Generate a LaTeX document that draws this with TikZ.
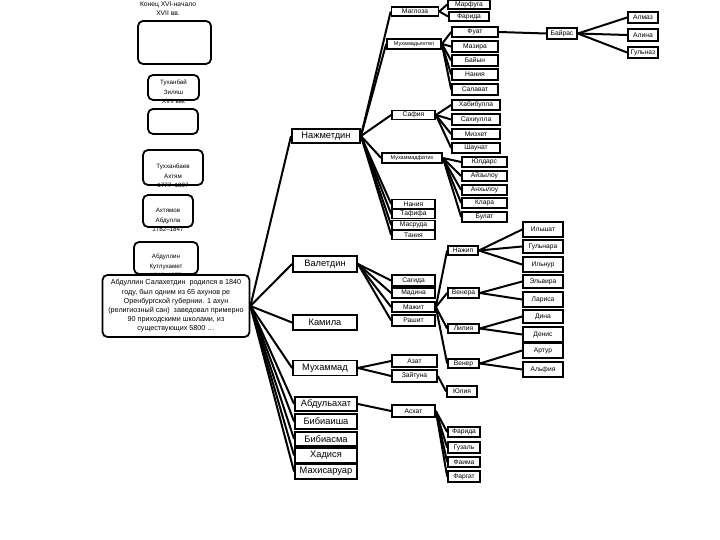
\documentclass[tikz,border=0pt]{standalone}
\usepackage{fontspec}
\setmainfont{Liberation Sans}
\usetikzlibrary{backgrounds}
\begin{document}
\begin{tikzpicture}[x=1pt,y=-1pt,
  bx/.style={draw, line width=1.7pt, fill=white, inner sep=0pt, font=\fontsize{6.7}{7}\selectfont},
  mid/.style={bx, line width=1.9pt, font=\fontsize{9.3}{10}\selectfont},
  rbox/.style={draw, line width=1.8pt, rounded corners=5pt, fill=white, inner sep=0pt},
  ltxt/.style={align=center, inner sep=0pt, font=\fontsize{6.2}{9.3}\selectfont},
  conn/.style={line width=2pt}]
\useasboundingbox (0,0) rectangle (720,540);
% left column
\node[ltxt, font=\fontsize{6.7}{9}\selectfont] (period) at (168,8.5) {Конец XVI-начало\\XVII вв.};
\node[rbox, minimum width=73, minimum height=43] (b1) at (174.5,42.5) {};
\node[rbox, minimum width=51, minimum height=25] (b2) at (173.5,87.5) {};
\node[ltxt] (t2) at (173.5,92) {Туханбай\\Зиляш\\XVII век};
\node[rbox, minimum width=50, minimum height=25] (b3) at (173,121.5) {};
\node[rbox, minimum width=60, minimum height=35] (b4) at (173,167.5) {};
\node[ltxt] (t4) at (173,176) {Тухханбаев\\Ахтям\\1777--1807};
\node[rbox, minimum width=50, minimum height=32] (b5) at (168,211) {};
\node[ltxt] (t5) at (168,220) {Ахтямов\\Абдулла\\1782--1847};
\node[rbox, minimum width=64, minimum height=32] (b6) at (166,258) {};
\node[ltxt] (t6) at (166,266) {Абдуллин\\Кутлухамет\\1812--1877};
\node[rbox, minimum width=147, minimum height=62, align=center, font=\fontsize{7.2}{9.2}\selectfont] (big) at (176,306)
 {Абдуллин Салахетдин\ \ родился в 1840\\году, был одним из 65 ахунов ре\\Оренбургской губернии. 1 ахун\\(религиозный сан)\ \ заведовал примерно\\90 приходскими школами, из\\существующих 5800 \dots};
% middle column
\node[mid, minimum width=68, minimum height=14] (naz) at (326,136) {Нажметдин};
\node[mid, minimum width=64, minimum height=16] (val) at (325,264) {Валетдин};
\node[mid, minimum width=64, minimum height=15] (kam) at (325,322.5) {Камила};
\node[mid, minimum width=64, minimum height=15] (muh) at (325,368) {Мухаммад};
\node[mid, minimum width=62, minimum height=14] (abd) at (326,404) {Абдульахат};
\node[mid, minimum width=62, minimum height=15] (bai) at (326,421.5) {Бибиаиша};
\node[mid, minimum width=62, minimum height=14] (bas) at (326,439) {Бибиасма};
\node[mid, minimum width=62, minimum height=15] (had) at (326,455.5) {Хадися};
\node[mid, minimum width=62, minimum height=15] (mah) at (326,471.5) {Махисаруар};
% level 2
\node[bx, minimum width=47, minimum height=9] (magl) at (415,11.5) {Маглоза};
\node[bx, minimum width=54, minimum height=10, font=\fontsize{5.5}{6}\selectfont] (muhya) at (414,44) {Мухамадьяхтел};
\node[bx, minimum width=43, minimum height=9] (saf) at (413.5,115) {Сафия};
\node[bx, minimum width=60, minimum height=10, font=\fontsize{5.5}{6}\selectfont] (muhf) at (412,158) {Мухаммадфатих};
\node[bx, minimum width=43, minimum height=9] (nan1) at (413.5,204) {Нания};
\node[bx, minimum width=43, minimum height=9] (taf) at (413.5,214) {Тафифа};
\node[bx, minimum width=43, minimum height=9] (mas) at (413.5,225) {Масруда};
\node[bx, minimum width=43, minimum height=9] (tan) at (413.5,235) {Тания};
\node[bx, minimum width=43, minimum height=11] (sag) at (413.5,280.5) {Сагида};
\node[bx, minimum width=43, minimum height=10] (mad) at (413.5,293) {Мадина};
\node[bx, minimum width=43, minimum height=10] (maz) at (413.5,307) {Мажит};
\node[bx, minimum width=43, minimum height=11] (ras) at (413.5,320.5) {Рашит};
\node[bx, minimum width=45, minimum height=12] (azat) at (414.5,361) {Азат};
\node[bx, minimum width=45, minimum height=12] (zai) at (414.5,376) {Зайтуна};
\node[bx, minimum width=43, minimum height=12] (ash) at (413.5,411) {Асхат};
% level 3
\node[bx, minimum width=42, minimum height=9] (marf) at (469,4.5) {Марфуга};
\node[bx, minimum width=40, minimum height=9] (far1) at (469,16.5) {Фарида};
\node[bx, minimum width=46, minimum height=10] (fuat) at (475,32) {Фуат};
\node[bx, minimum width=46, minimum height=11] (mazira) at (475,46.5) {Мазира};
\node[bx, minimum width=46, minimum height=11] (bayin) at (475,60.5) {Байын};
\node[bx, minimum width=46, minimum height=11] (nan2) at (475,74.5) {Нания};
\node[bx, minimum width=46, minimum height=11] (salav) at (475,89.5) {Салават};
\node[bx, minimum width=48, minimum height=10] (habib) at (476,105) {Хабибулла};
\node[bx, minimum width=48, minimum height=11] (sahi) at (476,119.5) {Сахиулла};
\node[bx, minimum width=48, minimum height=10] (mizh) at (476,134) {Мизхет};
\node[bx, minimum width=48, minimum height=10] (shau) at (476,148) {Шаунат};
\node[bx, minimum width=45, minimum height=10] (yuld) at (484.5,162) {Юлдарс};
\node[bx, minimum width=45, minimum height=10] (ayz) at (484.5,176) {Айзылоу};
\node[bx, minimum width=45, minimum height=10] (anh) at (484.5,190) {Анхылоу};
\node[bx, minimum width=45, minimum height=10] (klara) at (484.5,203) {Клара};
\node[bx, minimum width=45, minimum height=10] (bulat) at (484.5,217) {Булат};
\node[bx, minimum width=30, minimum height=9] (nazip) at (463,250.5) {Нажип};
\node[bx, minimum width=31, minimum height=10] (venera) at (463.5,293) {Венера};
\node[bx, minimum width=31, minimum height=9] (liliya) at (463.5,328.5) {Лилия};
\node[bx, minimum width=31, minimum height=9] (vener) at (463.5,363.5) {Венер};
\node[bx, minimum width=30, minimum height=11] (yuliya) at (462,391.5) {Юлия};
\node[bx, minimum width=32, minimum height=10] (far2) at (464,432) {Фарида};
\node[bx, minimum width=32, minimum height=11] (guz) at (464,447.5) {Гузаль};
\node[bx, minimum width=32, minimum height=10] (faima) at (464,462) {Фаима};
\node[bx, minimum width=32, minimum height=11] (farg) at (464,476.5) {Фаргат};
% level 4
\node[bx, minimum width=30, minimum height=11] (bairas) at (562,33.5) {Байрас};
\node[bx, minimum width=40, minimum height=15] (ilsh) at (543,229.5) {Ильшат};
\node[bx, minimum width=40, minimum height=13] (gulnara) at (543,246.5) {Гульнара};
\node[bx, minimum width=40, minimum height=15] (ilnur) at (543,264.5) {Ильнур};
\node[bx, minimum width=40, minimum height=13] (elv) at (543,281.5) {Эльвира};
\node[bx, minimum width=40, minimum height=15] (lar) at (543,299.5) {Лариса};
\node[bx, minimum width=40, minimum height=13] (dina) at (543,316.5) {Дина};
\node[bx, minimum width=40, minimum height=15] (denis) at (543,334.5) {Денис};
\node[bx, minimum width=40, minimum height=15] (artur) at (543,350.5) {Артур};
\node[bx, minimum width=40, minimum height=15] (alf) at (543,369.5) {Альфия};
% level 5
\node[bx, minimum width=30, minimum height=11] (almaz) at (643,17.5) {Алмаз};
\node[bx, minimum width=30, minimum height=12] (alina) at (643,35) {Алина};
\node[bx, minimum width=30, minimum height=11] (gulnaz) at (643,52.5) {Гульназ};
% connectors
\begin{scope}[on background layer]
\fill[white] (0,0) rectangle (720,540);
\foreach \c in {naz,val,kam,muh,abd,bai,bas,had,mah} \draw[conn] (big.east) -- (\c.west);
\foreach \c in {magl,muhya,saf,muhf,nan1,taf,mas,tan} \draw[conn] (naz.east) -- (\c.west);
\foreach \c in {marf,far1} \draw[conn] (magl.east) -- (\c.west);
\foreach \c in {fuat,mazira,bayin,nan2,salav} \draw[conn] (muhya.east) -- (\c.west);
\draw[conn] (fuat.east) -- (bairas.west);
\foreach \c in {almaz,alina,gulnaz} \draw[conn] (bairas.east) -- (\c.west);
\foreach \c in {habib,sahi,mizh,shau} \draw[conn] (saf.east) -- (\c.west);
\foreach \c in {yuld,ayz,anh,klara,bulat} \draw[conn] (muhf.east) -- (\c.west);
\foreach \c in {sag,mad,maz,ras} \draw[conn] (val.east) -- (\c.west);
\foreach \c in {nazip,venera,liliya,vener} \draw[conn] (maz.east) -- (\c.west);
\foreach \c in {ilsh,gulnara,ilnur} \draw[conn] (nazip.east) -- (\c.west);
\foreach \c in {elv,lar} \draw[conn] (venera.east) -- (\c.west);
\foreach \c in {dina,denis} \draw[conn] (liliya.east) -- (\c.west);
\foreach \c in {artur,alf} \draw[conn] (vener.east) -- (\c.west);
\foreach \c in {azat,zai} \draw[conn] (muh.east) -- (\c.west);
\draw[conn] (zai.east) -- (yuliya.west);
\draw[conn] (abd.east) -- (ash.west);
\foreach \c in {far2,guz,faima,farg} \draw[conn] (ash.east) -- (\c.west);
\end{scope}
\end{tikzpicture}
\end{document}
